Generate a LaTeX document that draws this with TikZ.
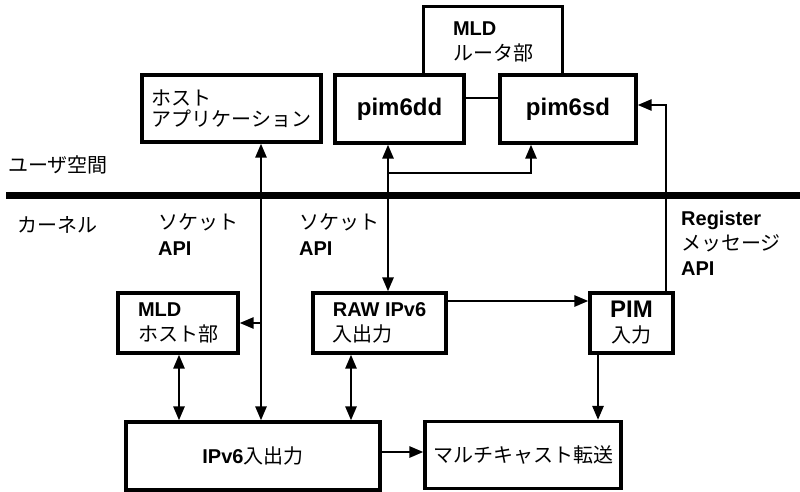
\documentclass[tikz,border=0pt]{standalone}
\usepackage{fontspec}
\setmainfont{Liberation Sans}
\newfontfamily\jp{Noto Sans CJK JP}
\usetikzlibrary{arrows.meta}
\tikzset{tri/.tip={Triangle[length=14pt,width=11pt]}}
\begin{document}
\begin{tikzpicture}[x=1pt,y=-1pt,
  box/.style={draw,line width=3.2pt,fill=white,inner sep=0pt,font=\fontsize{20}{25}\selectfont},
  boxline/.style={line width=3.2pt},
  conn/.style={line width=2.6pt},
  lbl/.style={inner sep=0pt,font=\fontsize{20}{26}\selectfont},
  sep/.style={line width=7pt}]
\fill[white] (0,0) rectangle (800,492);
\useasboundingbox (0,0) rectangle (800,492);
% separator between user space and kernel
\draw[sep] (6,195) -- (800,195);
% boxes
\node[box, draw=none, fill=none, minimum width=136, minimum height=68, align=left] (mld) at (493,42) {{\bfseries MLD}\\{\jp ルータ部}};
\draw[boxline] (mld.south west) -- (mld.north west) -- (mld.north east) -- (mld.south east);
\node[box, minimum width=129, minimum height=68] (pimdd) at (399.5,109) {\fontsize{24}{28}\selectfont\bfseries pim6dd};
\node[box, minimum width=136, minimum height=68] (pimsd) at (568,109) {\fontsize{24}{28}\selectfont\bfseries pim6sd};
\node[box, minimum width=179, minimum height=67, align=left, font=\fontsize{20}{21}\selectfont\jp] (host) at (231.5,108.5) {ホスト\\アプリケーション};
\node[box, minimum width=120, minimum height=60, align=left] (mldh) at (178,323) {{\bfseries MLD}\\{\jp ホスト部}};
\node[box, minimum width=133, minimum height=60, align=left] (raw) at (379.5,323) {{\bfseries RAW IPv6}\\{\jp 入出力}};
\node[box, minimum width=83, minimum height=60, align=center] (pim) at (631.5,323) {{\fontsize{24}{25}\selectfont\bfseries PIM}\\{\jp 入力}};
\node[box, minimum width=254, minimum height=68] (ipv6) at (253,456) {{\bfseries IPv6}{\jp 入出力}};
\node[box, minimum width=196, minimum height=67] (mcast) at (523,455) {\jp マルチキャスト転送};
% labels
\node[lbl, anchor=west] (us) at (8,165) {\jp ユーザ空間};
\node[lbl, anchor=west] (kn) at (17,225) {\jp カーネル};
\node[lbl, anchor=west, align=left] (sock1) at (158,235) {{\jp ソケット}\\{\bfseries API}};
\node[lbl, anchor=west, align=left] (sock2) at (299,235) {{\jp ソケット}\\{\bfseries API}};
\node[lbl, anchor=west, align=left, font=\fontsize{20}{25}\selectfont] (reg) at (681,243) {{\bfseries Register}\\{\jp メッセージ}\\{\bfseries API}};
% connectors
\coordinate (hx) at (261,0);
\draw[conn, tri-tri] (host.south -| hx) -- (ipv6.north -| hx);
\draw[conn, -tri] (hx |- mldh.east) -- (mldh.east);
\coordinate (rx) at (388,0);
\draw[conn, tri-tri] (pimdd.south -| rx) -- (raw.north -| rx);
\coordinate (bx) at (531,173);
\draw[conn, -tri] (rx |- bx) -- (bx) -- (pimsd.south -| bx);
\coordinate (ly) at (0,98);
\draw[conn] (pimdd.east |- ly) -- (pimsd.west |- ly);
\coordinate (ay) at (0,301);
\draw[conn, -tri] (raw.east |- ay) -- (pim.west |- ay);
\coordinate (gx) at (666,105);
\draw[conn, -tri] (pim.north -| gx) -- (gx) -- (pimsd.east |- gx);
\coordinate (px) at (598,0);
\draw[conn, -tri] (pim.south -| px) -- (mcast.north -| px);
\coordinate (mx) at (179,0);
\draw[conn, tri-tri] (mldh.south -| mx) -- (ipv6.north -| mx);
\coordinate (sx) at (351,0);
\draw[conn, tri-tri] (raw.south -| sx) -- (ipv6.north -| sx);
\coordinate (iy) at (0,452);
\draw[conn, -tri] (ipv6.east |- iy) -- (mcast.west |- iy);
\end{tikzpicture}
\end{document}
